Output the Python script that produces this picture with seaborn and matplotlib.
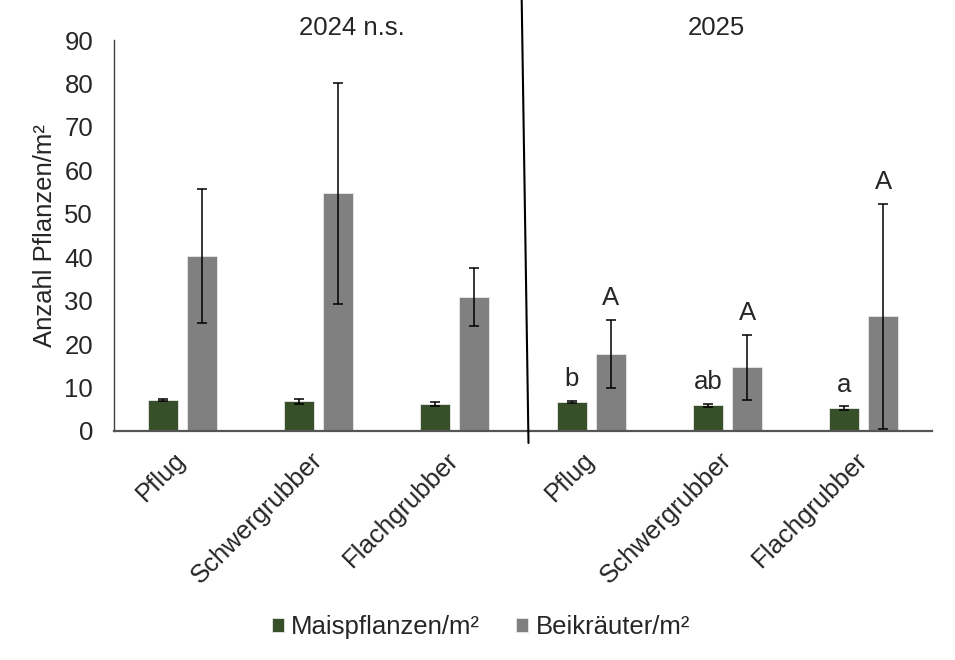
import pandas as pd
import seaborn as sns
import matplotlib.pyplot as plt
from matplotlib.lines import Line2D
from matplotlib.transforms import ScaledTranslation

# Daten
jahre = ['2024', '2024', '2024', '2025', '2025', '2025']
varianten = ['Pflug', 'Schwergrubber', 'Flachgrubber', 'Pflug', 'Schwergrubber', 'Flachgrubber']
mais = [7.1, 6.8, 6.2, 6.7, 5.9, 5.3]
mais_err = [0.2, 0.6, 0.4, 0.3, 0.3, 0.4]
beikraut = [40.3, 54.7, 30.9, 17.7, 14.7, 26.4]
beikraut_err = [15.5, 25.5, 6.7, 7.8, 7.5, 25.9]
buchst_mais = ['', '', '', 'b', 'ab', 'a']
buchst_beikraut = ['', '', '', 'A', 'A', 'A']
serien = ['Maispflanzen/m²', 'Beikräuter/m²']
farben = ['#375623', '#808080']

sns.set_theme(style='white')
plt.rcParams['font.family'] = ['Liberation Sans', 'DejaVu Sans']
fs = 18.5

slots = [f'{j} {v}' for j, v in zip(jahre, varianten)]
df = pd.concat([
    pd.DataFrame({'slot': slots, 'wert': mais, 'serie': serien[0]}),
    pd.DataFrame({'slot': slots, 'wert': beikraut, 'serie': serien[1]}),
], ignore_index=True)

fig = plt.figure(figsize=(9.55, 6.6), dpi=100)
ax = fig.add_axes([114 / 955, 1 - 431 / 660, 818 / 955, 391 / 660])

sns.barplot(data=df, x='slot', y='wert', hue='serie', palette=farben,
            width=0.573, gap=0.232, errorbar=None, legend=False,
            edgecolor='#e8e8e8', linewidth=0.6, ax=ax)

# Fehlerbalken und Signifikanzbuchstaben
for cont, err, buchst in zip(ax.containers, [mais_err, beikraut_err],
                             [buchst_mais, buchst_beikraut]):
    xs = [p.get_x() + p.get_width() / 2 for p in cont.patches]
    ys = [p.get_height() for p in cont.patches]
    ax.errorbar(xs, ys, yerr=err, fmt='none', ecolor='black',
                elinewidth=1.1, capsize=3.6, capthick=1.1)
    for x, y, e, b in zip(xs, ys, err, buchst):
        if b:
            ax.annotate(b, (x, y + e), xytext=(0, 7), textcoords='offset points',
                        ha='center', va='bottom', fontsize=fs)

ax.set_ylim(0, 90)
ax.set_xlim(-0.5, 5.5)
ax.set_yticks(range(0, 91, 10))
ax.set_xticks(range(6))
ax.set_xticklabels(varianten, rotation=45, ha='right', rotation_mode='anchor')
ax.tick_params(axis='both', labelsize=fs, length=0)
ax.tick_params(axis='y', pad=15)
ax.tick_params(axis='x', pad=12)
verschub = ScaledTranslation(-6 / 72, 0, fig.dpi_scale_trans)
for lbl in ax.get_xticklabels():
    lbl.set_transform(lbl.get_transform() + verschub)
ax.set_xlabel('')
ax.set_ylabel('Anzahl Pflanzen/m²', fontsize=fs, labelpad=5)

sns.despine(ax=ax)
ax.spines['left'].set_color('#404040')
ax.spines['left'].set_linewidth(1.0)
ax.spines['bottom'].set_color('#555555')
ax.spines['bottom'].set_linewidth(1.6)

# Jahrestrenner und Überschriften
fig.add_artist(Line2D([521.7 / 955, 528.5 / 955], [1.0, 1 - 443 / 660],
                      transform=fig.transFigure, color='black', lw=1.5))
fig.text(351.5 / 955, 1 - 28 / 660, '2024 n.s.', ha='center', va='center', fontsize=fs)
fig.text(716.5 / 955, 1 - 28 / 660, '2025', ha='center', va='center', fontsize=fs)

fig.legend(ax.containers, serien, loc='center', bbox_to_anchor=(481 / 955, 1 - 627 / 660),
           ncol=2, frameon=False, fontsize=fs, handlelength=0.45, handleheight=0.45,
           handletextpad=0.3, columnspacing=1.4)

fig.savefig('out.png', dpi=100)
